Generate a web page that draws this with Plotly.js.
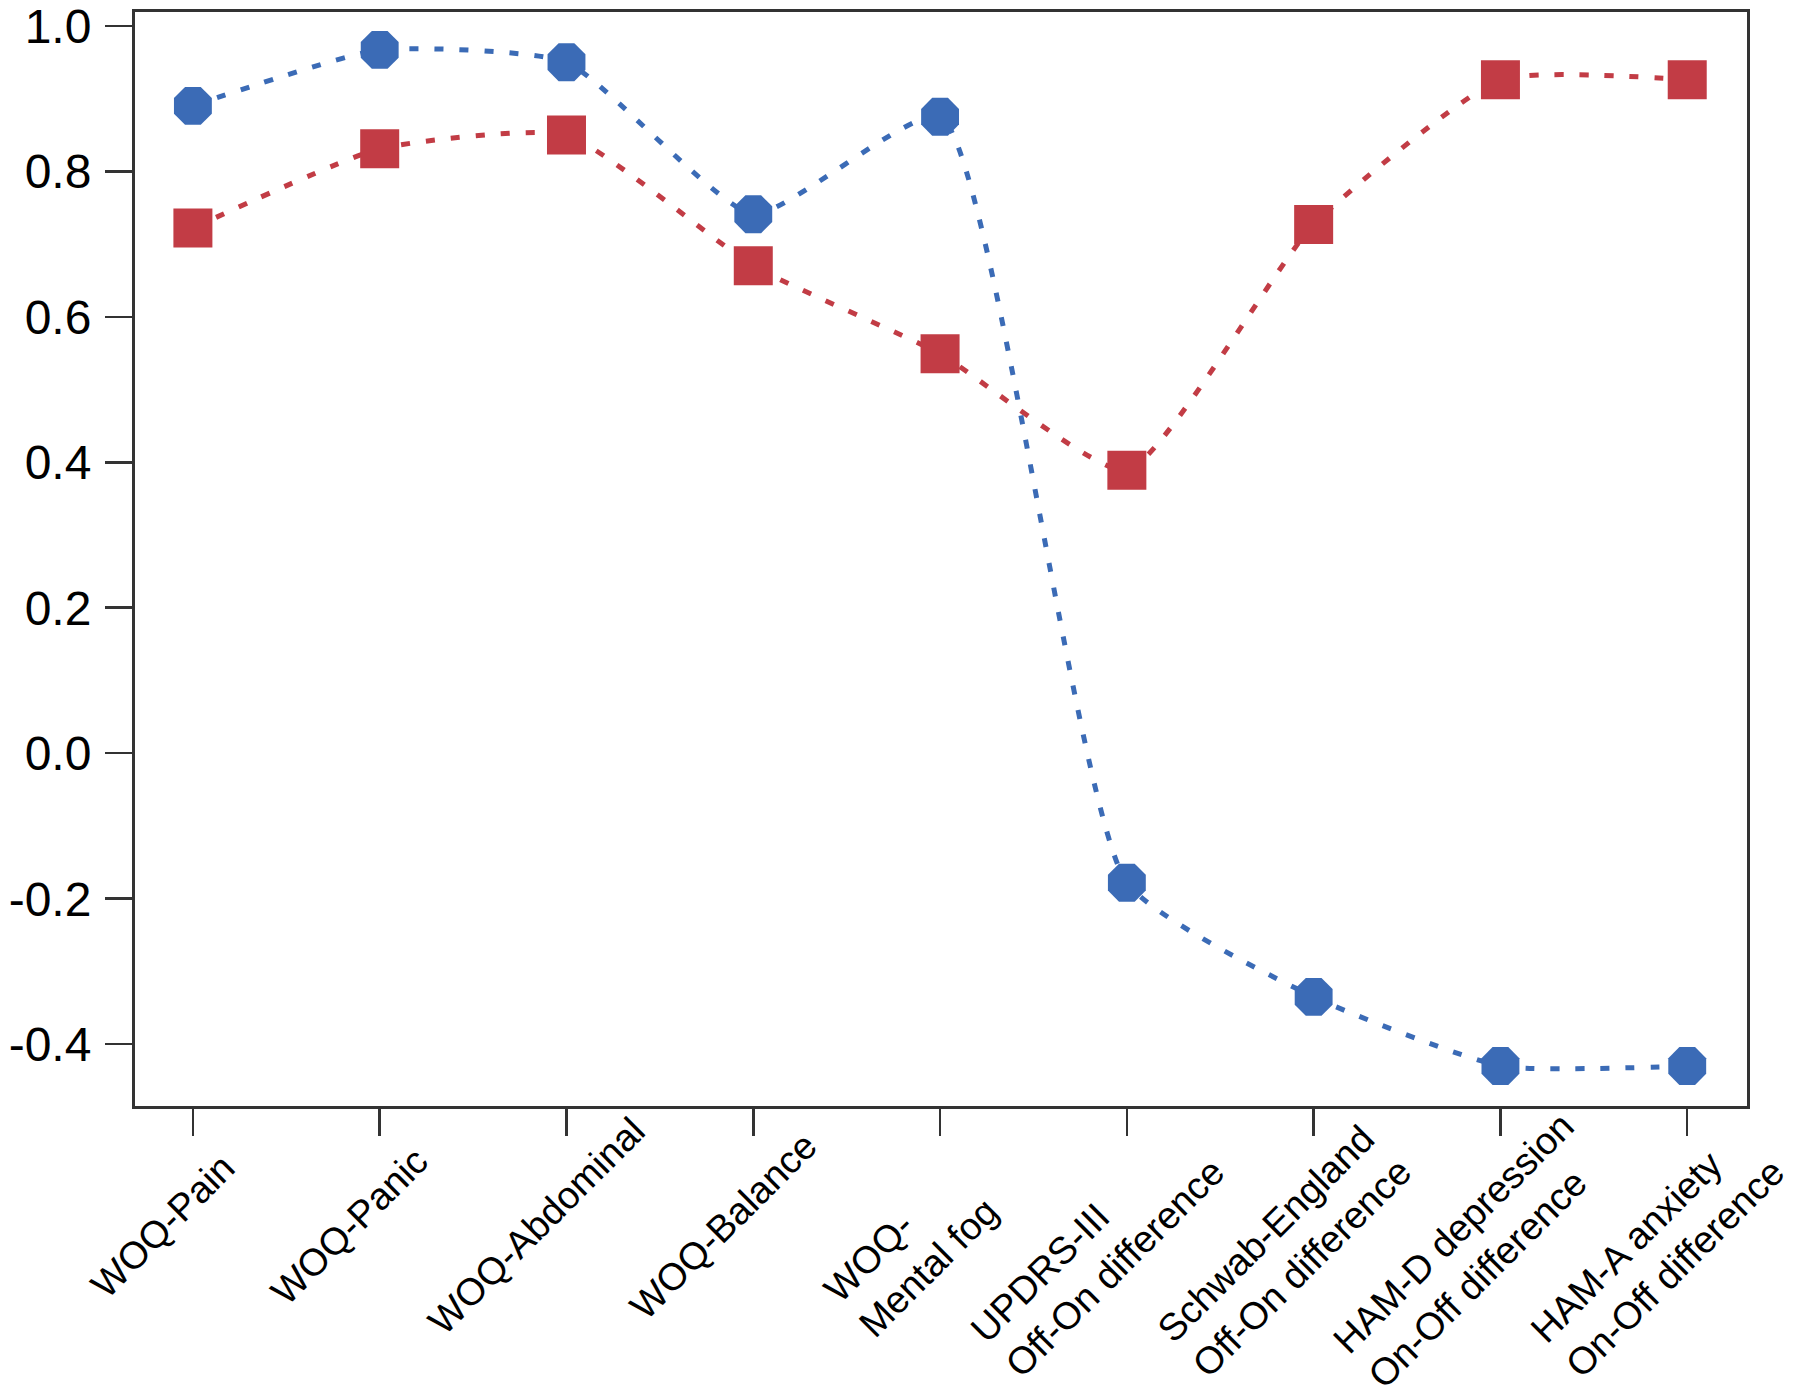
<!DOCTYPE html>
<html>
<head>
<meta charset="utf-8">
<script src="https://cdn.plot.ly/plotly-3.0.1.min.js"></script>
<style>
  html, body { margin: 0; padding: 0; background: #fff; }
  #chart { width: 1800px; height: 1395px; }
</style>
</head>
<body>
<div id="chart"></div>
<script>
const categories = [
  "WOQ-Pain",
  "WOQ-Panic",
  "WOQ-Abdominal",
  "WOQ-Balance",
  "WOQ-<br>Mental fog",
  "UPDRS-III<br>Off-On difference",
  "Schwab-England<br>Off-On difference",
  "HAM-D depression<br>On-Off difference",
  "HAM-A anxiety<br>On-Off difference"
];
const blueValues = [0.89, 0.967, 0.95, 0.741, 0.875, -0.178, -0.335, -0.43, -0.43];
const redValues  = [0.722, 0.831, 0.85, 0.67, 0.549, 0.389, 0.727, 0.926, 0.926];
const yTickVals = [-0.4, -0.2, 0.0, 0.2, 0.4, 0.6, 0.8, 1.0];
const yTickText = ["-0.4", "-0.2", "0.0", "0.2", "0.4", "0.6", "0.8", "1.0"];

const xIdx = categories.map((c, i) => i);
const BLUE = "#3b6bb6";
const RED = "#c23c45";

const traces = [
  {
    x: xIdx, y: redValues, type: "scatter", mode: "lines+markers",
    line: { color: RED, width: 5, dash: "9px,16px", shape: "spline", smoothing: 0.5 },
    marker: { symbol: "square", size: 39, color: RED },
    hoverinfo: "skip", showlegend: false
  },
  {
    x: xIdx, y: blueValues, type: "scatter", mode: "lines+markers",
    line: { color: BLUE, width: 5, dash: "9px,16px", shape: "spline", smoothing: 0.5 },
    marker: { symbol: "octagon", size: 41, color: BLUE },
    hoverinfo: "skip", showlegend: false
  }
];

// Category labels: rotated, left-aligned multi-line text under each tick
const labelAnnotations = categories.map((c, i) => {
  const nLines = c.split("<br>").length;
  return {
    x: i, xref: "x", y: 0, yref: "paper",
    text: c, showarrow: false, textangle: -45,
    xanchor: "center", yanchor: "middle", align: "left",
    xshift: -30, yshift: -(120 + 24 * (nLines - 1)),
    font: { size: 38, color: "#000", family: "Liberation Sans, Arial, sans-serif" }
  };
});

const layout = {
  width: 1800, height: 1395,
  paper_bgcolor: "#fff", plot_bgcolor: "#fff",
  margin: { l: 135, r: 53, t: 12, b: 289 },
  font: { family: "Liberation Sans, Arial, sans-serif", color: "#000" },
  xaxis: {
    range: [-0.31, 8.32],
    tickmode: "array", tickvals: xIdx, ticktext: categories,
    showticklabels: false,
    ticks: "outside", ticklen: 27, tickwidth: 2.5, tickcolor: "#333",
    showline: true, linecolor: "#333", linewidth: 3, mirror: true,
    showgrid: false, zeroline: false
  },
  yaxis: {
    range: [-0.485, 1.019],
    tickmode: "array", tickvals: yTickVals, ticktext: yTickText,
    ticklabeloverflow: "allow",
    ticklabelstandoff: 4,
    ticks: "outside", ticklen: 27, tickwidth: 2.5, tickcolor: "#333",
    showline: true, linecolor: "#333", linewidth: 3, mirror: true,
    showgrid: false, zeroline: false,
    tickfont: { size: 48, color: "#000" }
  },
  annotations: labelAnnotations
};

Plotly.newPlot("chart", traces, layout, { staticPlot: true, displayModeBar: false });
</script>
</body>
</html>
